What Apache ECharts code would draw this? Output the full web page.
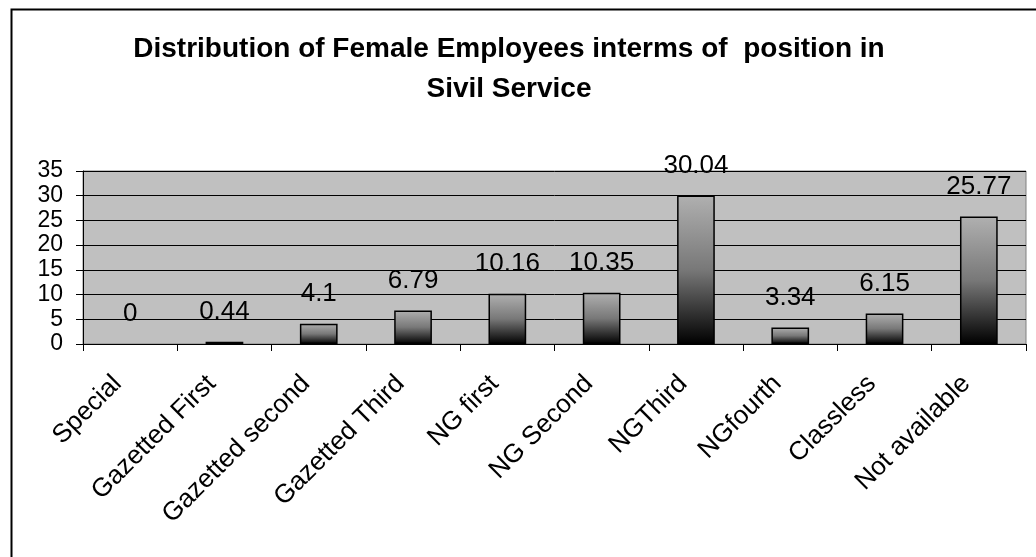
<!DOCTYPE html>
<html>
<head>
<meta charset="utf-8">
<script src="https://cdn.jsdelivr.net/npm/echarts@6/dist/echarts.min.js"></script>
<style>
  html, body { margin: 0; padding: 0; background: #fff; }
  #chart { width: 1036px; height: 557px; }
</style>
</head>
<body>
<div id="chart"></div>
<script>
// Position grades in the civil service
var categories = ['Special', 'Gazetted First', 'Gazetted second', 'Gazetted Third', 'NG first',
                  'NG Second', 'NGThird', 'NGfourth', 'Classless', 'Not available'];
// Share of female employees (%) per grade
var values = [0, 0.44, 4.1, 6.79, 10.16, 10.35, 30.04, 3.34, 6.15, 25.77];
var yTicks = [0, 5, 10, 15, 20, 25, 30, 35];

var chart = echarts.init(document.getElementById('chart'), null, { renderer: 'canvas' });

var font = 'Liberation Sans, Arial, sans-serif';

// a zero-height bar gets no outline, so only its label shows
var barData = values.map(function (v) {
  return v === 0 ? { value: v, itemStyle: { borderWidth: 0 } } : v;
});

chart.setOption({
  animation: false,
  backgroundColor: '#ffffff',
  graphic: [{
    type: 'rect',
    left: 9, top: 7,
    shape: { width: 1200, height: 700 },
    style: { fill: 'none', stroke: '#000', lineWidth: 2 },
    silent: true,
    z: -1
  }],
  title: {
    text: 'Distribution of Female Employees interms of  position in\nSivil Service',
    left: 504,
    textAlign: 'center',
    top: 24,
    textStyle: {
      fontFamily: font,
      fontWeight: 'bold',
      fontSize: 28,
      lineHeight: 40,
      color: '#000'
    }
  },
  grid: {
    left: 83, right: 10, top: 171, bottom: 213,
    show: true,
    backgroundColor: '#c0c0c0',
    borderColor: '#808080',
    borderWidth: 1
  },
  xAxis: {
    type: 'category',
    data: categories,
    boundaryGap: true,
    axisLine: { show: true, lineStyle: { color: '#000', width: 1 } },
    axisTick: { show: true, length: 7, lineStyle: { color: '#000' } },
    axisLabel: {
      interval: 0,
      rotate: 45,
      margin: 23,
      padding: [0, 18, 0, 0],
      color: '#000',
      fontFamily: font,
      fontSize: 26
    },
    splitLine: { show: false }
  },
  yAxis: {
    type: 'value',
    min: yTicks[0],
    max: yTicks[yTicks.length - 1],
    interval: yTicks[1] - yTicks[0],
    axisLine: { show: true, lineStyle: { color: '#000', width: 1 } },
    axisTick: { show: true, length: 7, lineStyle: { color: '#000' } },
    axisLabel: {
      showMinLabel: true,
      showMaxLabel: true,
      color: '#000',
      fontFamily: font,
      fontSize: 23,
      lineHeight: 22,
      margin: 20
    },
    splitLine: { show: true, lineStyle: { color: '#000', width: 1 } }
  },
  series: [{
    type: 'bar',
    data: barData,
    barWidth: '40%',
    itemStyle: {
      color: new echarts.graphic.LinearGradient(0, 0, 0, 1, [
        { offset: 0, color: '#b0b0b0' },
        { offset: 0.5, color: '#787878' },
        { offset: 1, color: '#000000' }
      ]),
      borderColor: '#000',
      borderWidth: 1.5
    },
    label: {
      show: true,
      position: 'top',
      distance: 17,
      color: '#000',
      fontFamily: font,
      fontSize: 26
    }
  }]
});
</script>
</body>
</html>
